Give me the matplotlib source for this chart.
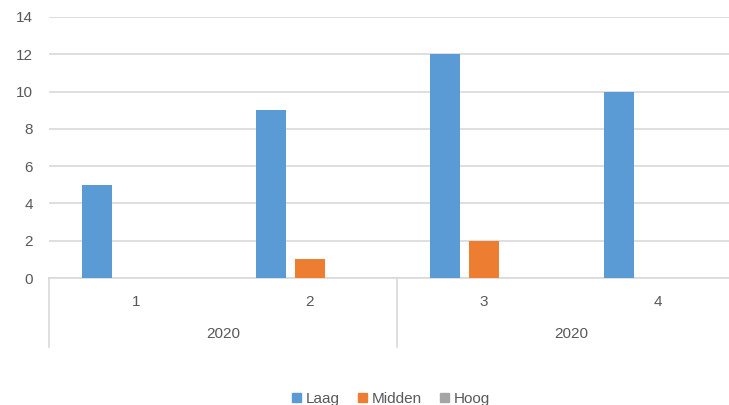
import matplotlib
matplotlib.use('Agg')
import matplotlib.pyplot as plt
from matplotlib.lines import Line2D
from matplotlib.patches import Patch
import matplotlib.transforms as mtransforms

categories = ['1', '2', '3', '4']
groups = ['2020', '2020']
laag = [5, 9, 12, 10]
midden = [0, 1, 2, 0]
hoog = [0, 0, 0, 0]

series = [('Laag', laag, '#5B9BD5'),
          ('Midden', midden, '#ED7D31'),
          ('Hoog', hoog, '#A5A5A5')]

plt.rcParams['font.family'] = ['Liberation Sans', 'DejaVu Sans']
text_color = '#595959'
grid_color = '#D9D9D9'

fig = plt.figure(figsize=(7.29, 4.05), dpi=100)
W, H = 729, 405
# plot area runs past the right edge, as in the reference
ax = fig.add_axes([49 / W, 127 / H, 696 / W, 261 / H])

x = list(range(len(categories)))
width = 0.172
offset = 0.224
for i, (name, vals, color) in enumerate(series):
    pos = [xi + (i - 1) * offset for xi in x]
    ax.bar(pos, vals, width=width, color=color, label=name, zorder=3)

ax.set_xlim(-0.5, len(categories) - 0.5)
ax.set_ylim(0, 14)
ax.set_yticks(range(0, 15, 2))
ax.yaxis.grid(True, color=grid_color, linewidth=1.2, zorder=0)
ax.set_axisbelow(True)
for s in ['top', 'right', 'left']:
    ax.spines[s].set_visible(False)
ax.spines['bottom'].set_color(grid_color)
ax.spines['bottom'].set_linewidth(1.2)
ax.tick_params(axis='y', length=0, colors=text_color, labelsize=11, pad=11.5)
ax.set_xticks(x)
ax.set_xticklabels(categories)
ax.tick_params(axis='x', length=0, colors=text_color, labelsize=11, pad=12.5)

# second level of the category axis
trans = mtransforms.blended_transform_factory(ax.transData, ax.transAxes)
n_per_group = 2
for g, label in enumerate(groups):
    start = g * n_per_group - 0.5
    center = start + n_per_group / 2
    ax.text(center, -56 / 261, label, transform=trans, ha='center',
            va='center', color=text_color, fontsize=11)
    ax.add_line(Line2D([start, start], [0, -69 / 261], transform=trans,
                       color=grid_color, linewidth=1.2, clip_on=False))

handles = [Patch(color=c, label=n) for n, _, c in series]
fig.legend(handles=handles, loc='center', bbox_to_anchor=(391 / W, 6 / H),
           ncol=3, frameon=False, fontsize=11, handlelength=0.6,
           handleheight=0.6, handletextpad=0.3, columnspacing=1.2,
           labelcolor=text_color, borderpad=0)

fig.savefig('out.png', dpi=100)
